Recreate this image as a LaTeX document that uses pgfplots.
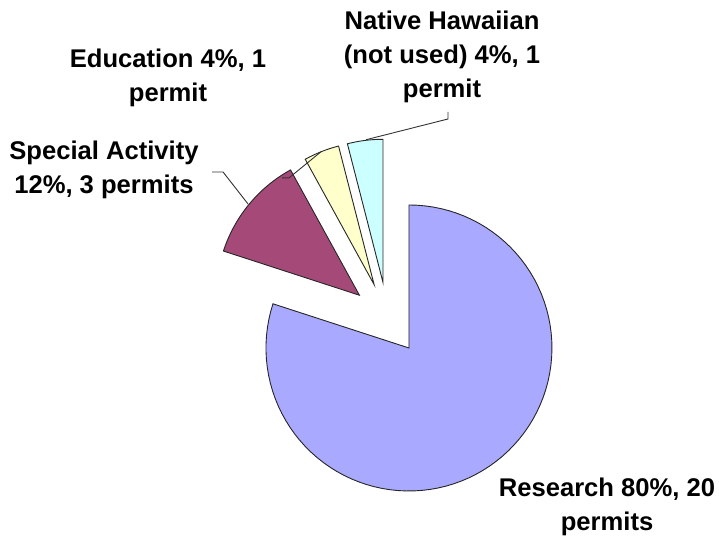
\documentclass[border=0pt]{standalone}
\usepackage{pgfplots}
\pgfplotsset{compat=1.18}
\usepackage{fontspec}
\setmainfont{Liberation Sans}
\definecolor{resc}{RGB}{169,169,255}
\definecolor{spec}{RGB}{165,74,120}
\definecolor{educ}{RGB}{255,255,204}
\definecolor{nati}{RGB}{204,255,255}
\def\total{25}
\def\explode{0.255}
% #1 cumulative value before slice, #2 slice value, #3 fill colour
\newcommand{\pieslice}[3]{%
  \pgfmathsetmacro\sa{90-360*#1/\total}%
  \pgfmathsetmacro\ea{90-360*(#1+#2)/\total}%
  \pgfmathsetmacro\ma{(\sa+\ea)/2}%
  \pgfmathsetmacro\cx{\explode*cos(\ma)}%
  \pgfmathsetmacro\cy{\explode*sin(\ma)}%
  \edef\temp{\noexpand\addplot[draw=black!85, line width=0.45pt, fill=#3, domain=\ea:\sa, samples=90, variable=\noexpand\t]
    ({\cx+cos(\noexpand\t)},{\cy+sin(\noexpand\t)}) -- (axis cs:\cx,\cy) -- cycle;}%
  \temp}
\begin{document}
\begin{tikzpicture}
\begin{axis}[
  width=359.5pt, height=268pt, scale only axis,
  xmin=-2.710, xmax=2.318, ymin=-1.521, ymax=2.227,
  axis line style={draw=none}, ticks=none, clip=false]
% values: Research 20, Special Activity 3, Education 1, Native Hawaiian 1
\pieslice{0}{20}{resc}
\pieslice{20}{3}{spec}
\pieslice{23}{1}{educ}
\pieslice{24}{1}{nati}
% leader lines
\addplot[black!80, line width=0.45pt] coordinates {(-1.227,1.024) (-1.150,1.024) (-0.975,0.800)};
\addplot[black!80, line width=0.45pt] coordinates {(-0.738,0.983) (-0.689,0.983) (-0.465,1.166)};
\addplot[black!80, line width=0.45pt] coordinates {(0.423,1.444) (0.423,1.395) (-0.150,1.250)};
% labels
\tikzset{lab/.style={font=\fontsize{12.8}{17}\selectfont\bfseries, align=center, inner sep=0pt}}
\node[lab] at (axis cs:-1.983,1.038) {Special Activity\\12\%, 3 permits};
\node[lab] at (axis cs:-1.535,1.682) {Education 4\%, 1\\permit};
\node[lab] at (axis cs:0.381,1.831) {Native Hawaiian\\(not used) 4\%, 1\\permit};
\node[lab] at (axis cs:1.535,-1.318) {Research 80\%, 20\\permits};
\end{axis}
\end{tikzpicture}
\end{document}
